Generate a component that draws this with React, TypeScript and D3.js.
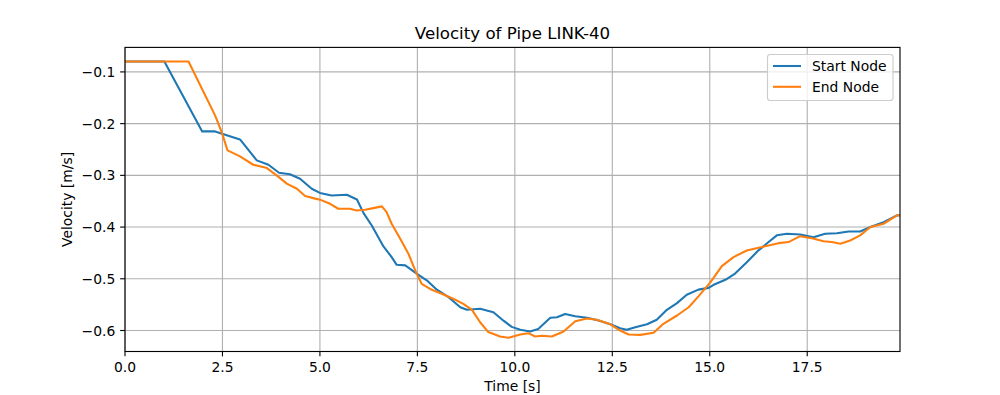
import React from "react";
import * as d3 from "d3";

const title = "Velocity of Pipe LINK-40";
const xLabel = "Time [s]";
const yLabel = "Velocity [m/s]";
const seriesNames = ["Start Node", "End Node"];
const seriesColors = ["#1f77b4", "#ff7f0e"];
const xTicks = [0, 2.5, 5, 7.5, 10, 12.5, 15, 17.5];
const yTicks = [-0.6, -0.5, -0.4, -0.3, -0.2, -0.1];
const xDomain = [0, 19.88];
const yDomain = [-0.6406, -0.0526];

const startTime = [0, 1.01, 1.98, 2.31, 2.95, 3.38, 3.68, 3.95, 4.23, 4.49, 4.79, 5.0, 5.3, 5.69, 5.95, 6.12, 6.33, 6.63, 6.84, 6.97, 7.19, 7.48, 7.74, 8.0, 8.3, 8.6, 8.77, 9.11, 9.45, 9.71, 9.92, 10.14, 10.39, 10.6, 10.91, 11.08, 11.29, 11.55, 11.85, 12.15, 12.45, 12.7, 12.87, 13.09, 13.39, 13.64, 13.9, 14.16, 14.41, 14.71, 14.97, 15.1, 15.4, 15.65, 15.95, 16.25, 16.51, 16.72, 16.98, 17.32, 17.66, 17.96, 18.26, 18.56, 18.86, 19.12, 19.46, 19.8, 19.88];
const startVelocity = [-0.08, -0.08, -0.215, -0.215, -0.2306, -0.271, -0.2795, -0.295, -0.298, -0.3066, -0.326, -0.334, -0.339, -0.3376, -0.3466, -0.373, -0.397, -0.4375, -0.458, -0.473, -0.474, -0.49, -0.503, -0.521, -0.5356, -0.555, -0.56, -0.558, -0.5647, -0.581, -0.593, -0.5986, -0.602, -0.597, -0.5755, -0.5743, -0.568, -0.5723, -0.5755, -0.5807, -0.588, -0.5956, -0.5987, -0.5935, -0.588, -0.5793, -0.56, -0.547, -0.531, -0.521, -0.5176, -0.5116, -0.502, -0.49, -0.468, -0.445, -0.429, -0.416, -0.413, -0.4143, -0.4195, -0.413, -0.412, -0.4085, -0.4085, -0.4, -0.3905, -0.3776, -0.377];

const endTime = [0, 1.63, 2.31, 2.48, 2.63, 2.95, 3.29, 3.64, 3.89, 4.15, 4.41, 4.62, 4.88, 5.0, 5.26, 5.47, 5.77, 5.94, 6.16, 6.37, 6.59, 6.71, 6.84, 7.06, 7.27, 7.48, 7.61, 7.87, 8.17, 8.42, 8.68, 8.9, 9.11, 9.32, 9.62, 9.84, 10.14, 10.35, 10.52, 10.69, 10.95, 11.25, 11.55, 11.85, 12.1, 12.45, 12.7, 12.92, 13.22, 13.56, 13.81, 14.16, 14.46, 14.71, 15.02, 15.31, 15.61, 15.95, 16.25, 16.51, 16.76, 17.02, 17.32, 17.62, 17.92, 18.13, 18.35, 18.6, 18.86, 19.12, 19.46, 19.8, 19.88];
const endVelocity = [-0.08, -0.08, -0.184, -0.2165, -0.2518, -0.2634, -0.2795, -0.286, -0.3, -0.316, -0.326, -0.34, -0.345, -0.347, -0.355, -0.3646, -0.3646, -0.368, -0.3666, -0.3634, -0.36, -0.371, -0.3936, -0.4226, -0.4516, -0.49, -0.5097, -0.5213, -0.5304, -0.5387, -0.5484, -0.56, -0.584, -0.603, -0.6116, -0.614, -0.6078, -0.6052, -0.6116, -0.6103, -0.6116, -0.602, -0.582, -0.5768, -0.5793, -0.588, -0.6, -0.6078, -0.6084, -0.6045, -0.587, -0.571, -0.555, -0.534, -0.5066, -0.4756, -0.458, -0.4453, -0.44, -0.4356, -0.4311, -0.429, -0.4176, -0.4215, -0.4273, -0.429, -0.4323, -0.426, -0.416, -0.4, -0.3936, -0.3776, -0.377];

const W = 1000;
const H = 395;
const M = { left: 125, right: 900, top: 47.4, bottom: 351.5 };
const FONT = "DejaVu Sans, sans-serif";
const fmt = (v: number) => d3.format(".1f")(v).replace("-", "\u2212");

export default function App() {
  const x = d3.scaleLinear().domain(xDomain).range([M.left, M.right]);
  const y = d3.scaleLinear().domain(yDomain).range([M.bottom, M.top]);
  const line = d3
    .line<[number, number]>()
    .x((d) => x(d[0]))
    .y((d) => y(d[1]));
  const series = [
    d3.zip(startTime, startVelocity) as [number, number][],
    d3.zip(endTime, endVelocity) as [number, number][],
  ];
  return (
    <svg
      width={W}
      height={H}
      style={{ position: "absolute", left: 0, top: 0, background: "#fff" }}
      fontFamily={FONT}
    >
      <rect x={0} y={0} width={W} height={H} fill="#fff" />
      <defs>
        <clipPath id="plot">
          <rect x={M.left} y={M.top} width={M.right - M.left} height={M.bottom - M.top} />
        </clipPath>
      </defs>
      {xTicks.map((t) => (
        <line key={"gx" + t} x1={x(t)} x2={x(t)} y1={M.top} y2={M.bottom} stroke="#b0b0b0" strokeWidth={1.11} />
      ))}
      {yTicks.map((t) => (
        <line key={"gy" + t} x1={M.left} x2={M.right} y1={y(t)} y2={y(t)} stroke="#b0b0b0" strokeWidth={1.11} />
      ))}
      <g clipPath="url(#plot)">
        {series.map((s, i) => (
          <path key={i} d={line(s) || ""} fill="none" stroke={seriesColors[i]} strokeWidth={2.08} strokeLinejoin="round" strokeLinecap="square" />
        ))}
      </g>
      <rect x={M.left} y={M.top} width={M.right - M.left} height={M.bottom - M.top} fill="none" stroke="#000" strokeWidth={1.11} />
      {xTicks.map((t) => (
        <g key={"tx" + t}>
          <line x1={x(t)} x2={x(t)} y1={M.bottom} y2={M.bottom + 4.86} stroke="#000" strokeWidth={1.11} />
          <text x={x(t)} y={M.bottom + 9.7} dy="0.76em" textAnchor="middle" fontSize={13.89} fill="#000">
            {fmt(t)}
          </text>
        </g>
      ))}
      {yTicks.map((t) => (
        <g key={"ty" + t}>
          <line x1={M.left - 4.86} x2={M.left} y1={y(t)} y2={y(t)} stroke="#000" strokeWidth={1.11} />
          <text x={M.left - 9.7} y={y(t)} dy="0.36em" textAnchor="end" fontSize={13.89} fill="#000">
            {fmt(t)}
          </text>
        </g>
      ))}
      <text x={(M.left + M.right) / 2} y={39} textAnchor="middle" fontSize={16.67} fill="#000">
        {title}
      </text>
      <text x={(M.left + M.right) / 2} y={391} textAnchor="middle" fontSize={13.89} fill="#000">
        {xLabel}
      </text>
      <text transform={`translate(72,${(M.top + M.bottom) / 2}) rotate(-90)`} textAnchor="middle" fontSize={13.89} fill="#000">
        {yLabel}
      </text>
      <g>
        <rect x={767.5} y={54.5} width={125.5} height={46} rx={2.8} fill="#fff" fillOpacity={0.8} stroke="#cccccc" strokeWidth={1.11} />
        {seriesNames.map((n, i) => (
          <g key={n}>
            <line x1={773} x2={801} y1={66 + i * 20.8} y2={66 + i * 20.8} stroke={seriesColors[i]} strokeWidth={2.08} />
            <text x={812} y={66 + i * 20.8} dy="0.36em" fontSize={13.89} fill="#000">
              {n}
            </text>
          </g>
        ))}
      </g>
    </svg>
  );
}
